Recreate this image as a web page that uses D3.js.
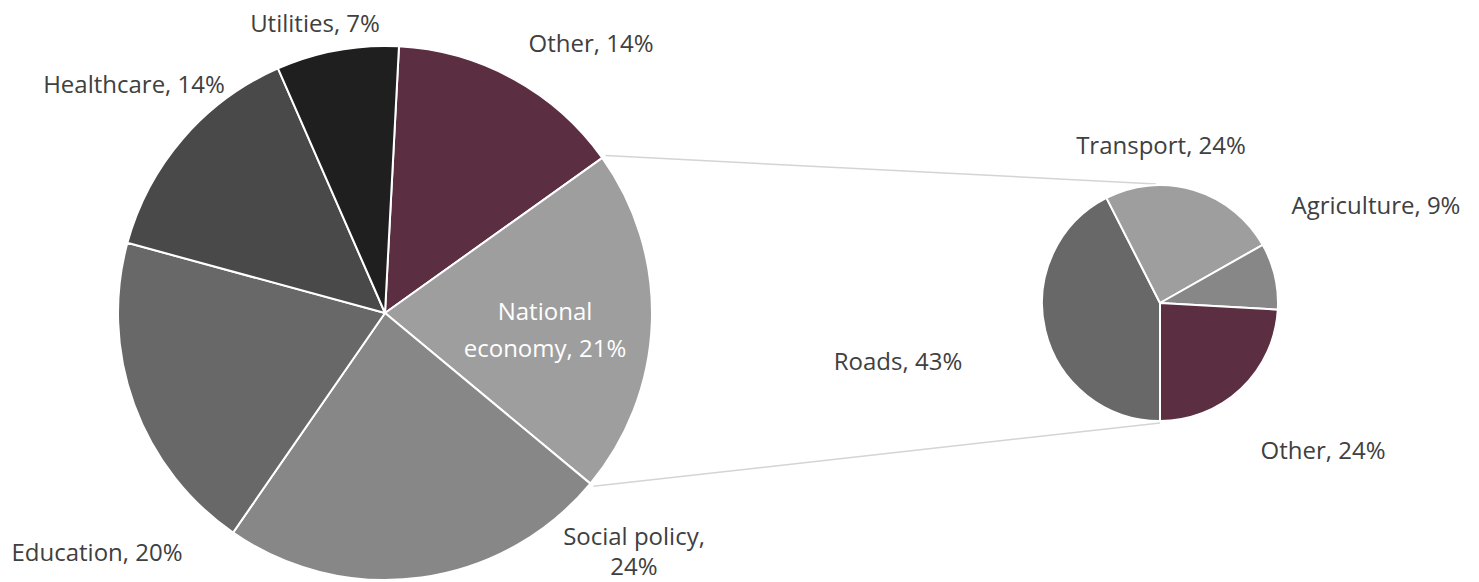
<!DOCTYPE html>
<html>
<head>
<meta charset="utf-8">
<script src="https://cdn.jsdelivr.net/npm/d3@7/dist/d3.min.js"></script>
<style>
  html, body { margin: 0; padding: 0; background: #ffffff; }
  svg text { font-family: "Segoe UI", "Open Sans", "Noto Sans", sans-serif; }
</style>
</head>
<body>
<svg id="chart" width="1479" height="582"></svg>
<script>
// ---- data ----
const mainCategories = ["Other", "National economy", "Social policy", "Education", "Healthcare", "Utilities"];
const mainValues = [14.3, 20.9, 23.6, 19.6, 14.2, 7.4];
const subCategories = ["Roads", "Transport", "Agriculture", "Other"];
const subValues = [42.5, 24.3, 9.1, 24.1];
const splitCategory = "National economy";

// ---- styles / layout ----
const mainColors = ["#5c2e42", "#9e9e9e", "#878787", "#686868", "#494949", "#1f1f1f"];
const subColors = ["#686868", "#9e9e9e", "#878787", "#5c2e42"];
const mainLabelColors = ["#404040", "#ffffff", "#404040", "#404040", "#404040", "#404040"];
const mainLabelOffsets = [[206, -269], [160, 17], [249, 239], [-288, 240], [-251, -228], [-70, -289]];
const subLabelOffsets = [[-262, 59], [1, -157], [216, -97], [163, 148]];
const mainLineHeights = [0, 37, 30, 0, 0, 0];
const firstSliceAngleDeg = 3;

const svg = d3.select("#chart");
const mainC = { x: 385, y: 313, r: 267 };
const subC = { x: 1160, y: 303, r: 118 };

const total = d3.sum(mainValues);
const subTotal = d3.sum(subValues);
const splitIdx = mainCategories.indexOf(splitCategory);
const mainStart = firstSliceAngleDeg * Math.PI / 180;

const mainPie = d3.pie().sort(null).value(d => d)
  .startAngle(mainStart).endAngle(mainStart + 2 * Math.PI);
const subPie = d3.pie().sort(null).value(d => d)
  .startAngle(Math.PI).endAngle(3 * Math.PI);

const mainArcs = mainPie(mainValues);
const subArcs = subPie(subValues);

const arcMain = d3.arc().innerRadius(0).outerRadius(mainC.r);
const arcSub = d3.arc().innerRadius(0).outerRadius(subC.r);

function pct(v, t) { return Math.round(v / t * 100) + "%"; }

// connector lines
const sa = mainArcs[splitIdx];
const rr = mainC.r + 4;
const p1 = [mainC.x + rr * Math.sin(sa.startAngle), mainC.y - rr * Math.cos(sa.startAngle)];
const p2 = [mainC.x + rr * Math.sin(sa.endAngle), mainC.y - rr * Math.cos(sa.endAngle)];
svg.append("line").attr("x1", p1[0]).attr("y1", p1[1]).attr("x2", subC.x - 4).attr("y2", subC.y - subC.r - 1)
  .attr("stroke", "#d4d4d4").attr("stroke-width", 1.5);
svg.append("line").attr("x1", p2[0]).attr("y1", p2[1]).attr("x2", subC.x).attr("y2", subC.y + subC.r + 2)
  .attr("stroke", "#d4d4d4").attr("stroke-width", 1.5);

const gMain = svg.append("g").attr("transform", `translate(${mainC.x},${mainC.y})`);
gMain.selectAll("path").data(mainArcs).join("path")
  .attr("d", arcMain)
  .attr("fill", (d, i) => mainColors[i])
  .attr("stroke", "#ffffff").attr("stroke-width", 2).attr("stroke-linejoin", "round");

const gSub = svg.append("g").attr("transform", `translate(${subC.x},${subC.y})`);
gSub.selectAll("path").data(subArcs).join("path")
  .attr("d", arcSub)
  .attr("fill", (d, i) => subColors[i])
  .attr("stroke", "#ffffff").attr("stroke-width", 2).attr("stroke-linejoin", "round");

// labels
const mainLabelLines = mainCategories.map((c, i) => {
  const p = pct(mainValues[i], total);
  if (c === "National economy") return ["National", "economy, " + p];
  if (c === "Social policy") return ["Social policy,", p];
  return [c + ", " + p];
});
const subLabelLines = subCategories.map((c, i) => [c + ", " + pct(subValues[i], subTotal)]);

function drawLabels(g, texts, offsets, colors, lineHeights) {
  texts.forEach((lines, i) => {
    const [dx, dy] = offsets[i];
    const lh = lineHeights ? lineHeights[i] : 0;
    const t = g.append("text")
      .attr("text-anchor", "middle")
      .attr("font-size", 24)
      .attr("fill", colors ? colors[i] : "#404040");
    lines.forEach((ln, j) => {
      t.append("tspan").attr("x", dx)
        .attr("y", dy + (j - (lines.length - 1) / 2) * lh)
        .attr("dy", "0.35em").text(ln);
    });
  });
}
drawLabels(gMain, mainLabelLines, mainLabelOffsets, mainLabelColors, mainLineHeights);
drawLabels(gSub, subLabelLines, subLabelOffsets, null, null);
</script>
</body>
</html>
